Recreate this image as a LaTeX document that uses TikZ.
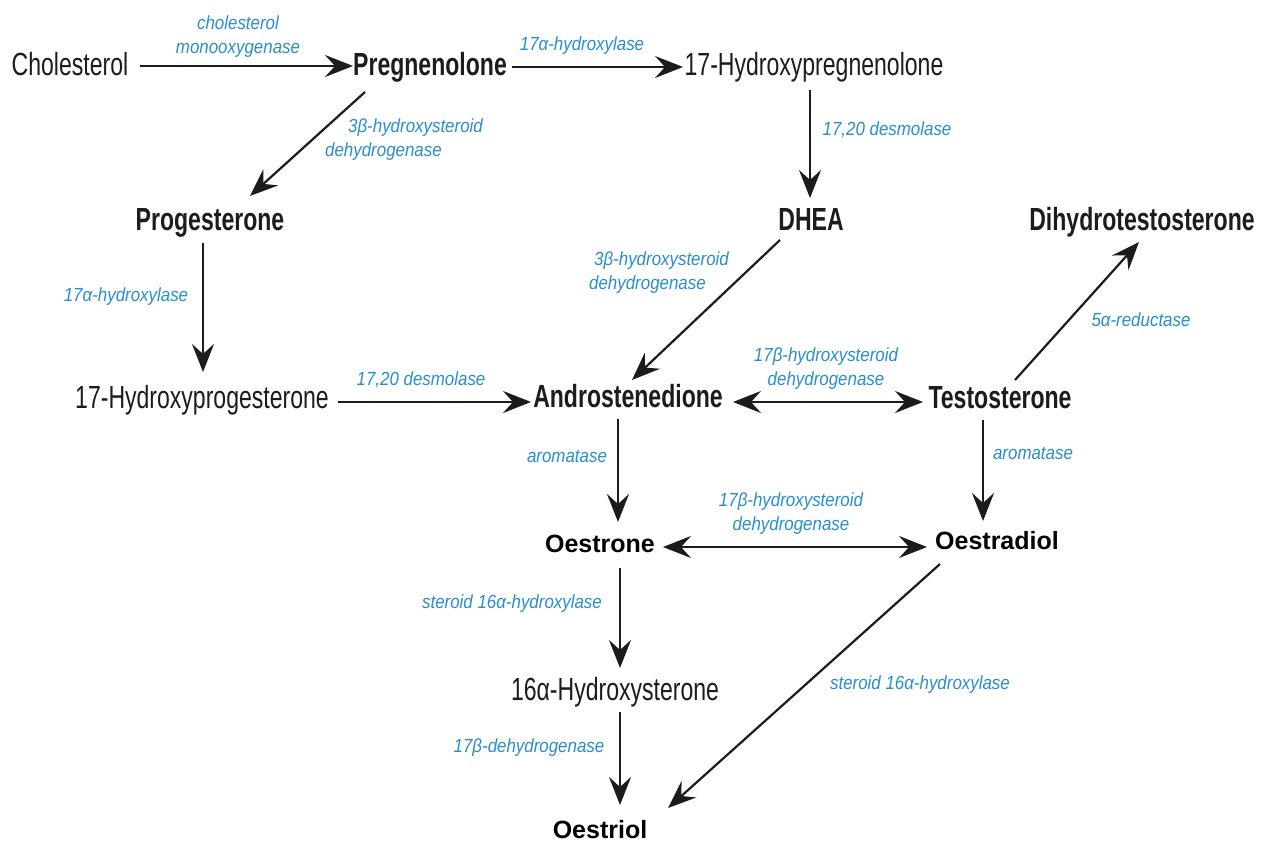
\documentclass[tikz,border=0pt]{standalone}
\usepackage{fontspec}
\setmainfont{Liberation Sans}
\newfontfamily\namefont{Liberation Sans}[FakeStretch=0.72]
\newfontfamily\enzfont{Liberation Sans}[FakeStretch=0.89]
\newfontfamily\oesfont{Liberation Sans}
\usetikzlibrary{arrows.meta}
\definecolor{enzblue}{RGB}{41,143,204}
\definecolor{ink}{RGB}{28,28,32}

\tikzset{
  cpd/.style={anchor=base, inner sep=0pt, text=ink,
    font=\namefont\fontsize{32}{34}\selectfont},
  cpdb/.style={cpd, font=\namefont\bfseries\fontsize{32}{34}\selectfont},
  oes/.style={cpd, text=black, font=\oesfont\bfseries\fontsize{25}{27}\selectfont},
  enz/.style={inner sep=0pt, text=enzblue, align=center,
    font=\enzfont\itshape\fontsize{19}{24}\selectfont},
  rxn/.style={draw=ink, line width=2.2pt, -{Stealth[length=28pt,width=22pt,inset=10pt]}},
  rxnboth/.style={draw=ink, line width=2.2pt,
    {Stealth[length=28pt,width=22pt,inset=10pt]}-{Stealth[length=28pt,width=22pt,inset=10pt]}},
}

\begin{document}
\begin{tikzpicture}[x=1pt,y=-1pt]
\useasboundingbox (0,0) rectangle (1269,843);
\fill[white] (0,0) rectangle (1269,843);

% compounds (placed by baseline)
\node[cpd]  (chol)   at (70,75)   {Cholesterol};
\node[cpdb] (preg)   at (430,75)  {Pregnenolone};
\node[cpd]  (ohpreg) at (814,75)  {17-Hydroxypregnenolone};
\node[cpdb] (prog)   at (210,230) {Progesterone};
\node[cpdb] (dhea)   at (811,230) {DHEA};
\node[cpdb] (dht)    at (1142,230) {Dihydrotestosterone};
\node[cpd]  (ohprog) at (202,408) {17-Hydroxyprogesterone};
\node[cpdb] (andro)  at (628,407) {Androstenedione};
\node[cpdb] (testo)  at (1000,408) {Testosterone};
\node[oes]  (estrone) at (600,552) {Oestrone};
\node[oes]  (estradiol) at (997,549) {Oestradiol};
\node[cpd]  (ohestrone) at (615,700) {16α-Hydroxysterone};
\node[oes]  (estriol) at (600,838) {Oestriol};

% enzymes
\node[enz] (e1)  at (238,37)  {cholesterol\\monooxygenase};
\node[enz] (e2)  at (582,46)  {17α-hydroxylase};
\node[enz, align=left] (e3) at (404,140) {\hspace*{23pt}3β-hydroxysteroid\\dehydrogenase};
\node[enz] (e4)  at (887,130) {17,20 desmolase};
\node[enz, align=left] (e5) at (659,273) {\hspace*{5pt}3β-hydroxysteroid\\dehydrogenase};
\node[enz] (e6)  at (126,297) {17α-hydroxylase};
\node[enz] (e7)  at (1141,320) {5α-reductase};
\node[enz] (e8)  at (421,380) {17,20 desmolase};
\node[enz] (e9)  at (826,369) {17β-hydroxysteroid\\dehydrogenase};
\node[enz] (e10) at (567,456) {aromatase};
\node[enz] (e11) at (1033,453) {aromatase};
\node[enz] (e12) at (791,514) {17β-hydroxysteroid\\dehydrogenase};
\node[enz] (e13) at (512,604) {steroid 16α-hydroxylase};
\node[enz] (e14) at (920,685) {steroid 16α-hydroxylase};
\node[enz] (e15) at (529,748) {17β-dehydrogenase};

% reactions
\draw[rxn] ([shift={(70,-9)}]chol.base) -- ([shift={(-77,-9)}]preg.base);
\draw[rxn] ([shift={(82,-8)}]preg.base) -- ([shift={(-131,-8)}]ohpreg.base);
\draw[rxn] ([shift={(-65,17)}]preg.base) -- ([shift={(40,-34)}]prog.base);
\draw[rxn] ([shift={(-4,15)}]ohpreg.base) -- ([shift={(-1,-32)}]dhea.base);
\draw[rxn] ([shift={(-7,13)}]prog.base) -- ([shift={(1,-36)}]ohprog.base);
\draw[rxn] ([shift={(-31,10)}]dhea.base) -- ([shift={(4,-27)}]andro.base);
\draw[rxn] ([shift={(136,-6)}]ohprog.base) -- ([shift={(-97,-5)}]andro.base);
\draw[rxnboth] ([shift={(105,-5)}]andro.base) -- ([shift={(-77,-6)}]testo.base);
\draw[rxn] ([shift={(15,-28)}]testo.base) -- ([shift={(-3,12)}]dht.base);
\draw[rxn] ([shift={(-10,12)}]andro.base) -- ([shift={(18,-30)}]estrone.base);
\draw[rxn] ([shift={(-17,12)}]testo.base) -- ([shift={(-14,-28)}]estradiol.base);
\draw[rxnboth] ([shift={(63,-5)}]estrone.base) -- ([shift={(-70,-2)}]estradiol.base);
\draw[rxn] ([shift={(20,16)}]estrone.base) -- ([shift={(5,-32)}]ohestrone.base);
\draw[rxn] ([shift={(5,12)}]ohestrone.base) -- ([shift={(20,-33)}]estriol.base);
\draw[rxn] ([shift={(-57,15)}]estradiol.base) -- ([shift={(68,-30)}]estriol.base);
\end{tikzpicture}
\end{document}
